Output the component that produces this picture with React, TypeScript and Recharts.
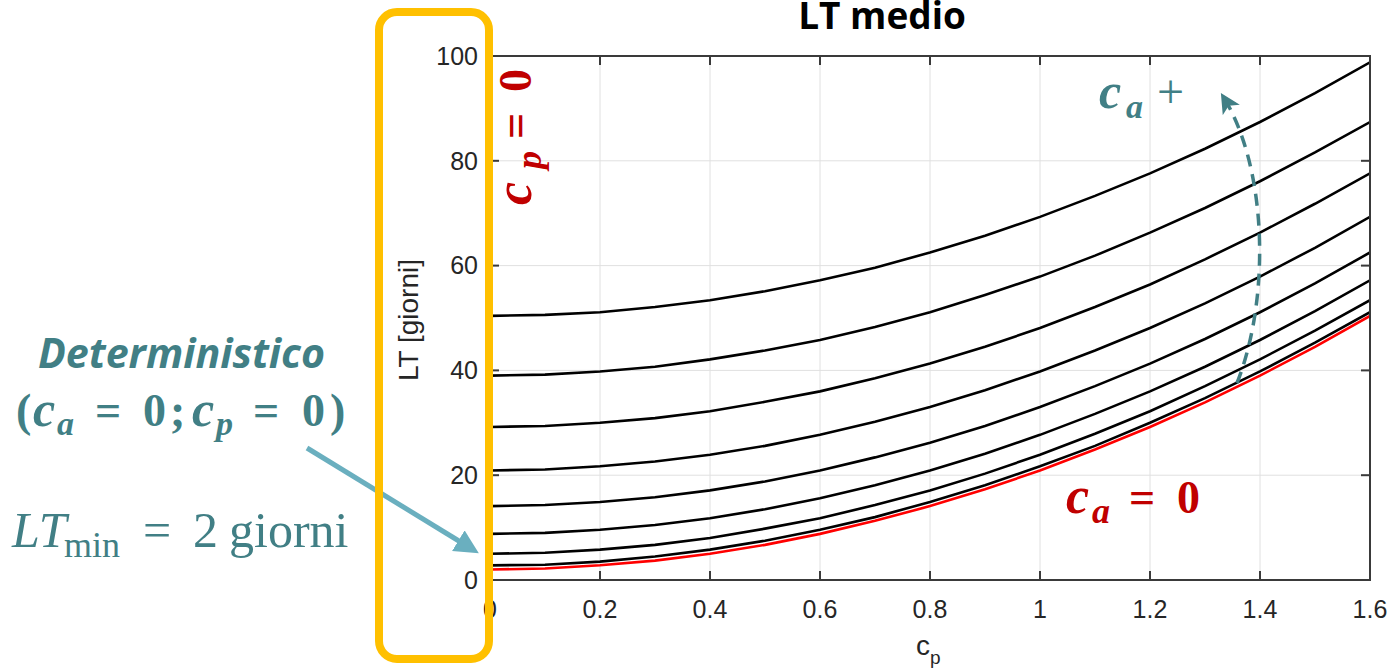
import React from "react"
import { LineChart, Line, XAxis, YAxis, CartesianGrid } from "recharts"

// c_p on the x axis
const cpValues = [0, 0.1, 0.2, 0.3, 0.4, 0.5, 0.6, 0.7, 0.8, 0.9, 1.0, 1.1, 1.2, 1.3, 1.4, 1.5, 1.6]

// LT medio [giorni], one curve per c_a
const ltCa00 = [2.0, 2.2, 2.8, 3.7, 5.0, 6.7, 8.8, 11.3, 14.1, 17.3, 20.9, 24.9, 29.2, 33.9, 39.0, 44.5, 50.4]
const ltCa02 = [2.8, 2.9, 3.5, 4.5, 5.8, 7.5, 9.6, 12.0, 14.9, 18.1, 21.7, 25.6, 30.0, 34.7, 39.8, 45.3, 51.1]
const ltCa04 = [5.0, 5.2, 5.8, 6.7, 8.0, 9.8, 11.8, 14.3, 17.1, 20.3, 23.9, 27.9, 32.2, 37.0, 42.1, 47.6, 53.4]
const ltCa06 = [8.8, 9.0, 9.6, 10.5, 11.8, 13.5, 15.6, 18.1, 20.9, 24.1, 27.7, 31.7, 36.0, 40.7, 45.8, 51.3, 57.2]
const ltCa08 = [14.1, 14.3, 14.9, 15.8, 17.1, 18.8, 20.9, 23.4, 26.2, 29.4, 33.0, 37.0, 41.3, 46.0, 51.1, 56.6, 62.5]
const ltCa10 = [20.9, 21.1, 21.7, 22.6, 23.9, 25.6, 27.7, 30.2, 33.0, 36.2, 39.8, 43.8, 48.1, 52.8, 57.9, 63.4, 69.3]
const ltCa12 = [29.2, 29.4, 30.0, 30.9, 32.2, 34.0, 36.0, 38.5, 41.3, 44.5, 48.1, 52.1, 56.4, 61.2, 66.3, 71.8, 77.6]
const ltCa14 = [39.0, 39.2, 39.8, 40.7, 42.1, 43.8, 45.8, 48.3, 51.1, 54.4, 57.9, 61.9, 66.3, 71.0, 76.1, 81.6, 87.4]
const ltCa16 = [50.4, 50.6, 51.1, 52.1, 53.4, 55.1, 57.2, 59.6, 62.5, 65.7, 69.3, 73.3, 77.6, 82.3, 87.4, 92.9, 98.8]

const xTicks = [0, 0.2, 0.4, 0.6, 0.8, 1, 1.2, 1.4, 1.6]
const yTicks = [0, 20, 40, 60, 80, 100]

const blackSeries = [
  { key: "ca16", values: ltCa16 },
  { key: "ca14", values: ltCa14 },
  { key: "ca12", values: ltCa12 },
  { key: "ca10", values: ltCa10 },
  { key: "ca08", values: ltCa08 },
  { key: "ca06", values: ltCa06 },
  { key: "ca04", values: ltCa04 },
  { key: "ca02", values: ltCa02 },
]

const chartData = cpValues.map((cp, i) => {
  const row: Record<string, number> = { cp, ca00: ltCa00[i] }
  blackSeries.forEach(s => { row[s.key] = s.values[i] })
  return row
})

// plot area (matches the chart margins below)
const W = 1390, H = 671
const M = { top: 56, right: 20, bottom: 61, left: 430 }
const Y_AXIS_W = 60, X_AXIS_H = 30
const plotL = M.left + Y_AXIS_W
const plotR = W - M.right
const plotT = M.top
const plotB = H - M.bottom - X_AXIS_H
const px = (v: number) => plotL + (v / xTicks[xTicks.length - 1]) * (plotR - plotL)
const py = (v: number) => plotB - (v / yTicks[yTicks.length - 1]) * (plotB - plotT)

const axisColor = "#262626"
const boxColor = "#3a3a3a"
const teal = "#417F85"
const lightTeal = "#6AAFBF"
const darkRed = "#C00000"
const tickStyle = { fill: axisColor, fontSize: 25, fontFamily: "Liberation Sans" }
const fmt = (v: number) => String(Number(v.toFixed(1)))

export default function App() {
  return (
    <div style={{ position: "relative", width: W, height: H, background: "#fff", overflow: "hidden" }}>
      <style>{`body{margin:0;}`}</style>
      <LineChart width={W} height={H} data={chartData} margin={M}>
        <CartesianGrid stroke="#e0e0e0" strokeWidth={1} />
        <XAxis
          dataKey="cp"
          type="number"
          domain={[0, 1.6]}
          ticks={xTicks}
          tickFormatter={fmt}
          height={X_AXIS_H}
          axisLine={false}
          tickLine={false}
          tickSize={0}
          tickMargin={20}
          tick={tickStyle}
          allowDataOverflow
        />
        <YAxis
          type="number"
          domain={[0, 100]}
          ticks={yTicks}
          width={Y_AXIS_W}
          axisLine={false}
          tickLine={false}
          tickSize={0}
          tickMargin={12}
          tick={tickStyle}
          allowDataOverflow
        />
        {blackSeries.map(s => (
          <Line
            key={s.key}
            dataKey={s.key}
            type="linear"
            stroke="#000000"
            strokeWidth={2.6}
            dot={false}
            isAnimationActive={false}
          />
        ))}
        <Line
          dataKey="ca00"
          type="linear"
          stroke="#FF0000"
          strokeWidth={2.6}
          dot={false}
          isAnimationActive={false}
        />
      </LineChart>

      <svg
        width={W}
        height={H}
        style={{ position: "absolute", left: 0, top: 0, pointerEvents: "none" }}
      >
        <defs>
          <marker id="headTeal" markerUnits="userSpaceOnUse" markerWidth="24" markerHeight="24" refX="14" refY="10" orient="auto">
            <path d="M0,0 L20,10 L0,20 L5,10 Z" fill={teal} />
          </marker>
          <marker id="headLight" markerUnits="userSpaceOnUse" markerWidth="28" markerHeight="28" refX="16" refY="12" orient="auto">
            <path d="M0,0 L24,12 L0,24 Z" fill={lightTeal} />
          </marker>
        </defs>

        {/* MATLAB style box with inward ticks */}
        <rect x={plotL} y={plotT} width={plotR - plotL} height={plotB - plotT} fill="none" stroke={boxColor} strokeWidth={2} />
        {xTicks.map(t => (
          <g key={`x${t}`}>
            <line x1={px(t)} y1={plotB} x2={px(t)} y2={plotB - 9} stroke={boxColor} strokeWidth={2} />
            <line x1={px(t)} y1={plotT} x2={px(t)} y2={plotT + 9} stroke={boxColor} strokeWidth={2} />
          </g>
        ))}
        {yTicks.map(t => (
          <g key={`y${t}`}>
            <line x1={plotL} y1={py(t)} x2={plotL + 9} y2={py(t)} stroke={boxColor} strokeWidth={2} />
            <line x1={plotR} y1={py(t)} x2={plotR - 9} y2={py(t)} stroke={boxColor} strokeWidth={2} />
          </g>
        ))}

        {/* title */}
        <text x={882} y={29} textAnchor="middle" fontFamily="Open Sans" fontWeight={700} fontSize={37} fill="#000">
          LT medio
        </text>

        {/* axis labels */}
        <text
          transform="translate(418,320) rotate(-90)"
          textAnchor="middle"
          fontFamily="Liberation Sans"
          fontSize={28}
          fill={axisColor}
        >
          LT [giorni]
        </text>
        <text x={916} y={655} fontFamily="Liberation Sans" fontSize={28} fill={axisColor}>
          c<tspan fontSize={19} dy={9}>p</tspan>
        </text>

        {/* c_p = 0, vertical */}
        <g transform="translate(531,205) rotate(-90)" fill={darkRed} fontFamily="Liberation Serif" fontWeight={700}>
          <text x={0} y={0} fontSize={52} fontStyle="italic">c</text>
          <text x={36} y={10} fontSize={36} fontStyle="italic">p</text>
          <text x={66} y={0} fontSize={46}>=</text>
          <text x={113} y={0} fontSize={46}>0</text>
        </g>

        {/* c_a + with dashed arrow */}
        <g fill={teal} fontFamily="Liberation Serif">
          <text x={1099} y={108} fontSize={50} fontWeight={700} fontStyle="italic">c</text>
          <text x={1126} y={118} fontSize={34} fontWeight={700} fontStyle="italic">a</text>
          <text x={1157} y={108} fontSize={48}>+</text>
        </g>
        <path
          d="M1237,383 C1270,300 1268,170 1224,98"
          fill="none"
          stroke={teal}
          strokeWidth={3.5}
          strokeDasharray="12 8"
          markerEnd="url(#headTeal)"
        />

        {/* c_a = 0 */}
        <g fill={darkRed} fontFamily="Liberation Serif" fontWeight={700}>
          <text x={1066} y={513} fontSize={52} fontStyle="italic">c</text>
          <text x={1092} y={523} fontSize={36} fontStyle="italic">a</text>
          <text x={1129} y={513} fontSize={46}>=</text>
          <text x={1177} y={513} fontSize={46}>0</text>
        </g>

        {/* left annotation */}
        <text
          x={38}
          y={368}
          fontFamily="Open Sans"
          fontWeight={700}
          fontStyle="italic"
          fontSize={42}
          fill={teal}
          textLength={287}
          lengthAdjust="spacingAndGlyphs"
        >
          Deterministico
        </text>
        <g fill={teal} fontFamily="Liberation Serif" fontWeight={700}>
          <text x={16} y={426} fontSize={46}>(</text>
          <text x={33} y={426} fontSize={50} fontStyle="italic">c</text>
          <text x={57} y={435} fontSize={34} fontStyle="italic">a</text>
          <text x={95} y={426} fontSize={46}>=</text>
          <text x={143} y={426} fontSize={46}>0</text>
          <text x={170} y={426} fontSize={46}>;</text>
          <text x={192} y={426} fontSize={50} fontStyle="italic">c</text>
          <text x={216} y={435} fontSize={34} fontStyle="italic">p</text>
          <text x={253} y={426} fontSize={46}>=</text>
          <text x={302} y={426} fontSize={46}>0</text>
          <text x={330} y={426} fontSize={46}>)</text>
        </g>
        <g fill={teal} fontFamily="Liberation Serif">
          <text x={12} y={547} fontSize={50} fontStyle="italic">LT</text>
          <text x={64} y={557} fontSize={36}>min</text>
          <text x={143} y={547} fontSize={50}>=</text>
          <text x={193} y={547} fontSize={50}>2</text>
          <text x={229} y={547} fontSize={50}>giorni</text>
        </g>
        <line x1={307} y1={448} x2={472} y2={549} stroke={lightTeal} strokeWidth={5} markerEnd="url(#headLight)" />

        {/* yellow highlight box over the y axis */}
        <rect x={379} y={12} width={110} height={647} rx={18} ry={18} fill="none" stroke="#FFC000" strokeWidth={8} />
      </svg>
    </div>
  )
}
